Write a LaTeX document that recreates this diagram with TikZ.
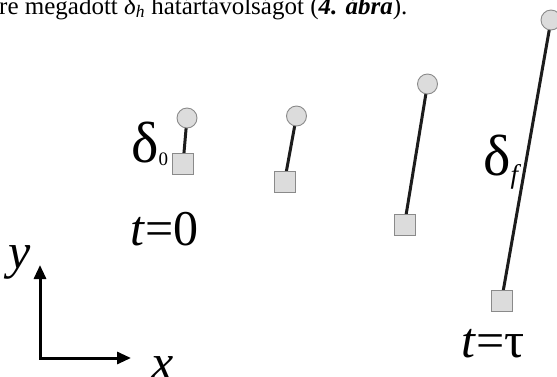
\documentclass[tikz,border=0pt]{standalone}
\usepackage{fontspec}
\setmainfont{Liberation Serif}
\usetikzlibrary{arrows.meta,backgrounds}
\definecolor{fillg}{HTML}{DCDCDC}
\definecolor{edgeg}{HTML}{8A8A8A}
\definecolor{rodc}{HTML}{1C1C1C}
\begin{document}
\begin{tikzpicture}[x=1pt,y=-1pt,
  ball/.style={circle,fill=fillg,draw=edgeg,line width=0.9pt,minimum size=20pt,inner sep=0pt},
  basebox/.style={rectangle,fill=fillg,draw=edgeg,line width=0.9pt,minimum size=21pt,inner sep=0pt},
  rod/.style={line width=3pt,draw=rodc},
  lbl/.style={font=\fontsize{50}{50}\selectfont,inner sep=0pt,anchor=base west},
  dlbl/.style={font=\fontsize{58}{58}\selectfont,inner sep=0pt,anchor=base west},
  axis/.style={line width=3pt,draw=black,line join=miter,arrows={Triangle[length=14pt,width=12pt]-Triangle[length=14pt,width=12pt]}}]
\useasboundingbox (0,0) rectangle (557,376);
\clip (0,0) rectangle (557,376);
% top line of text (cut off)
\node[anchor=base west,inner sep=0pt,font=\fontsize{25}{25}\selectfont] (topline) at (-1,14)
  {re megadott \textit{δ\textsubscript{h}} határtávolságot (\textbf{\textit{4. ábra}}).};
% dumbbells
\node[ball] (c1) at (187,118) {};
\node[basebox] (s1) at (183,164) {};
\node[ball] (c2) at (296.5,116) {};
\node[basebox] (s2) at (284.5,181.5) {};
\node[ball] (c3) at (427.5,84) {};
\node[basebox] (s3) at (404.5,224.5) {};
\node[ball] (c4) at (551,20) {};
\node[basebox] (s4) at (501.5,300.5) {};
\begin{scope}[on background layer]
\draw[rod] (s1.center) -- (c1.center);
\draw[rod] (s2.center) -- (c2.center);
\draw[rod] (s3.center) -- (c3.center);
\draw[rod] (s4.center) -- (c4.center);
\end{scope}
% labels
\node[dlbl] (d0) at (131,162) {δ\raisebox{-3pt}{\fontsize{19}{19}\selectfont 0}};
\node[lbl] (t0) at (130,245) {\textit{t}=0};
\node[dlbl] (df) at (483,175) {δ\raisebox{-8pt}{\fontsize{27}{27}\selectfont\textit{f}}};
\node[lbl] (tt) at (461,357) {\textit{t}=τ};
% axes
\coordinate (O) at (40,358);
\coordinate (Y) at (40,265);
\coordinate (X) at (131,358);
\draw[axis] (Y) -- (O) -- (X);
\node[lbl] (ylab) at (8,268) {\textit{y}};
\node[lbl] (xlab) at (151,379) {\textit{x}};
\end{tikzpicture}
\end{document}
